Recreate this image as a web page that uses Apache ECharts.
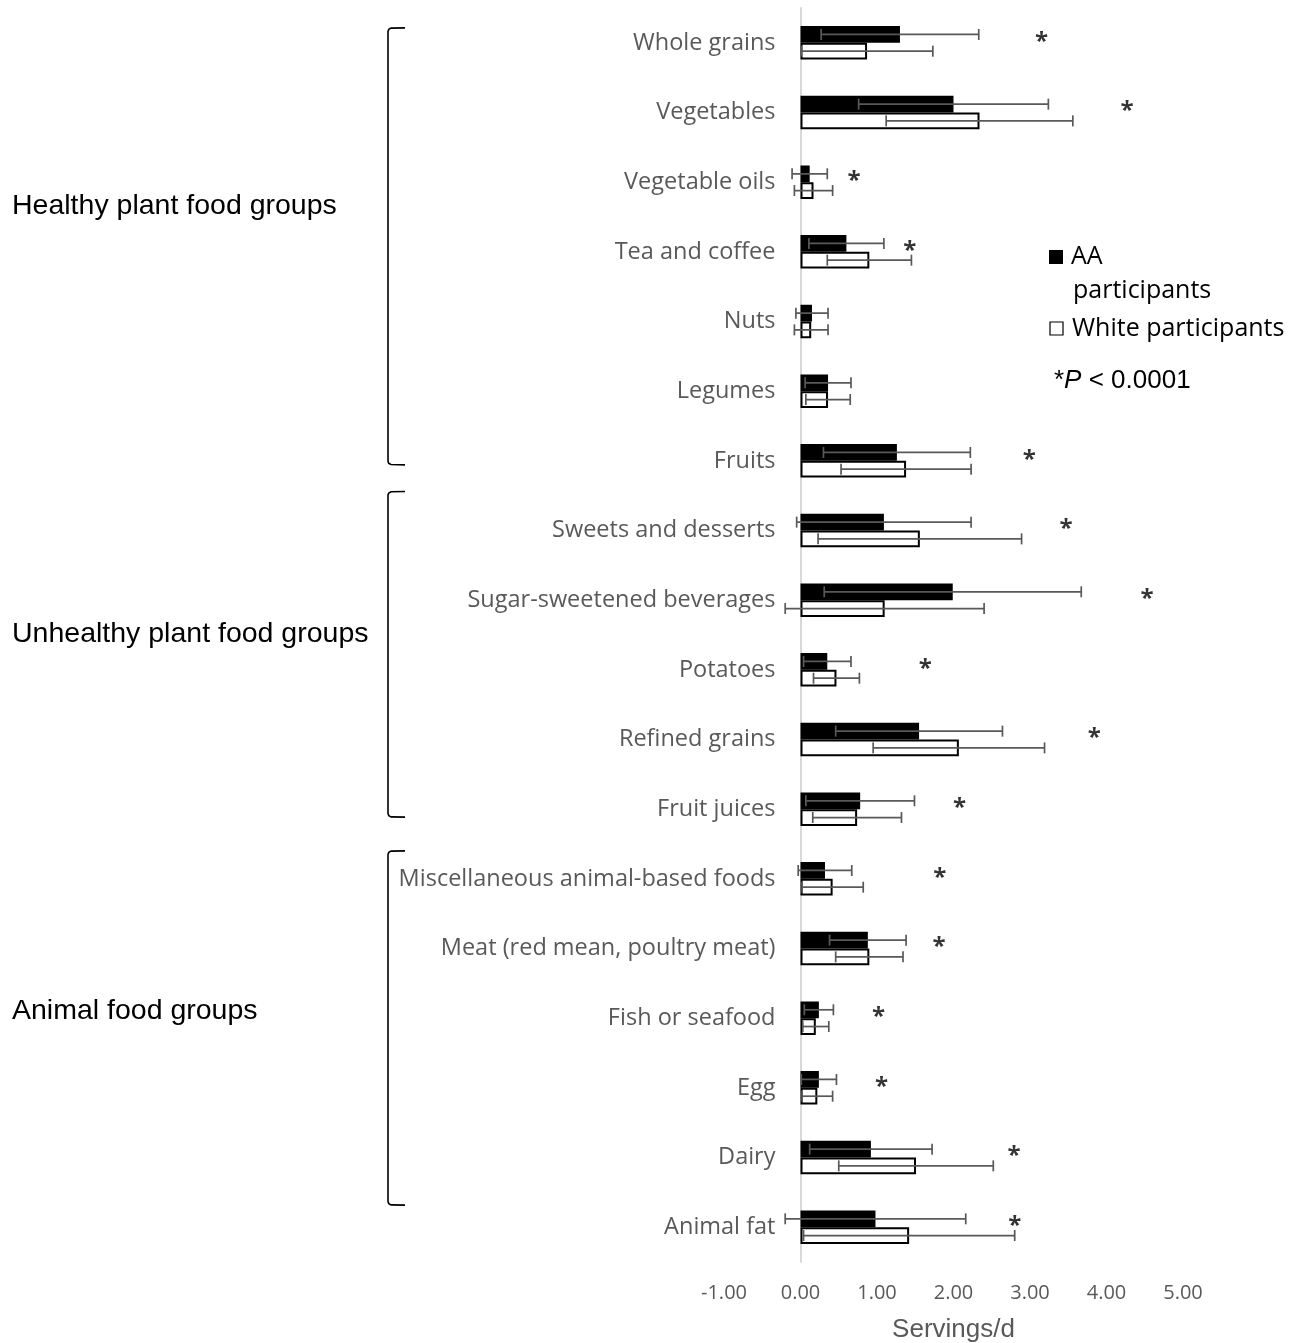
<!DOCTYPE html>
<html>
<head>
<meta charset="utf-8">
<title>Food group intake by race</title>
<script src="https://cdn.jsdelivr.net/npm/echarts@6/dist/echarts.min.js"></script>
<style>
  html, body { margin: 0; padding: 0; background: #ffffff; }
  #chart { width: 1300px; height: 1343px; }
</style>
</head>
<body>
<div id="chart"></div>
<script>
// Food groups, top to bottom
const categories = [
  'Whole grains', 'Vegetables', 'Vegetable oils', 'Tea and coffee', 'Nuts', 'Legumes', 'Fruits',
  'Sweets and desserts', 'Sugar-sweetened beverages', 'Potatoes', 'Refined grains', 'Fruit juices',
  'Miscellaneous animal-based foods', 'Meat (red mean, poultry meat)', 'Fish or seafood', 'Egg', 'Dairy', 'Animal fat'
];

// Mean servings per day and SD, African American participants
const aaMean = [1.30, 2.00, 0.12, 0.60, 0.15, 0.36, 1.26, 1.09, 1.99, 0.35, 1.55, 0.78, 0.32, 0.88, 0.24, 0.24, 0.92, 0.98];
const aaSD   = [1.03, 1.24, 0.23, 0.49, 0.21, 0.30, 0.96, 1.14, 1.68, 0.31, 1.09, 0.71, 0.35, 0.50, 0.19, 0.23, 0.80, 1.18];

// Mean servings per day and SD, White participants
const whMean = [0.87, 2.34, 0.17, 0.90, 0.14, 0.36, 1.38, 1.56, 1.10, 0.47, 2.07, 0.74, 0.42, 0.90, 0.20, 0.22, 1.51, 1.42];
const whSD   = [0.86, 1.22, 0.25, 0.55, 0.22, 0.29, 0.85, 1.33, 1.30, 0.30, 1.12, 0.58, 0.40, 0.44, 0.17, 0.20, 1.01, 1.38];

// Where the significance asterisk sits (servings/d); null = not significant
const starAt = [3.15, 4.27, 0.70, 1.43, null, null, 2.99, 3.47, 4.53, 1.63, 3.84, 2.08, 1.82, 1.81, 1.02, 1.06, 2.79, 2.80];

// Value axis ticks
const xTicks = { min: -1, max: 5, interval: 1 };

// Food group sections: label, first and last category index
const groups = [
  { name: 'Healthy plant food groups',   first: 0,  last: 6 },
  { name: 'Unhealthy plant food groups', first: 7,  last: 11 },
  { name: 'Animal food groups',          first: 12, last: 17 }
];

const BAR_FRAC = 0.24;    // bar thickness as share of a category band
const GREY = '#595959';
const CAT_FONT = '"Open Sans", "Noto Sans", sans-serif';
const ARIAL = '"Liberation Sans", Arial, sans-serif';

const GRID_LEFT = 724, GRID_W = 459;
// the category axis is drawn on the zero line of the value axis
const ZERO_SHIFT = GRID_W * (0 - xTicks.min) / (xTicks.max - xTicks.min);

function errorBars(sign) {
  return function (params, api) {
    const cat = api.value(0);
    const lo = api.value(1), hi = api.value(2);
    const c = api.coord([0, cat]);
    const band = api.size([0, 1])[1];
    const y = c[1] + sign * band * BAR_FRAC / 2;
    const x1 = api.coord([lo, cat])[0];
    const x2 = api.coord([hi, cat])[0];
    const h = 5.5;
    const st = { stroke: GREY, lineWidth: 1.7 };
    return {
      type: 'group',
      children: [
        { type: 'line', shape: { x1: x1, y1: y, x2: x2, y2: y }, style: st },
        { type: 'line', shape: { x1: x1, y1: y - h, x2: x1, y2: y + h }, style: st },
        { type: 'line', shape: { x1: x2, y1: y - h, x2: x2, y2: y + h }, style: st }
      ]
    };
  };
}

const aaErr = aaMean.map((m, i) => [i, m - aaSD[i], m + aaSD[i]]);
const whErr = whMean.map((m, i) => [i, m - whSD[i], m + whSD[i]]);
const stars = starAt.map((v, i) => v === null ? null : [v, i]).filter(d => d !== null);

const chart = echarts.init(document.getElementById('chart'), null, { renderer: 'canvas' });

const option = {
  animation: false,
  backgroundColor: '#ffffff',
  grid: {
    left: GRID_LEFT, width: GRID_W, top: 8, height: 1254,
    containLabel: false, outerBoundsMode: 'none'
  },
  xAxis: {
    type: 'value',
    min: xTicks.min, max: xTicks.max, interval: xTicks.interval,
    axisLine: { show: false },
    axisTick: { show: false },
    splitLine: { show: false },
    axisLabel: {
      color: GREY, fontFamily: CAT_FONT, fontSize: 20, margin: 21,
      formatter: v => v.toFixed(2)
    },
    name: 'Servings/d',
    nameLocation: 'middle',
    nameGap: 55,
    nameTextStyle: { color: GREY, fontFamily: ARIAL, fontSize: 26 }
  },
  yAxis: {
    type: 'category',
    data: categories,
    inverse: true,
    offset: -ZERO_SHIFT,
    axisLine: { show: true, onZero: false, lineStyle: { color: '#d9d9d9', width: 2 } },
    axisTick: { show: false },
    splitLine: { show: false },
    axisLabel: { color: GREY, fontFamily: CAT_FONT, fontSize: 23.5, margin: 25 }
  },
  series: [
    {
      name: 'AA participants',
      type: 'bar',
      data: aaMean,
      barWidth: (BAR_FRAC * 100) + '%',
      barGap: '0%',
      itemStyle: { color: '#000000', borderColor: '#000000', borderWidth: 1.5 },
      z: 2
    },
    {
      name: 'White participants',
      type: 'bar',
      data: whMean,
      barWidth: (BAR_FRAC * 100) + '%',
      barGap: '0%',
      itemStyle: { color: '#ffffff', borderColor: '#000000', borderWidth: 2 },
      z: 2
    },
    {
      type: 'custom',
      renderItem: errorBars(-1),
      data: aaErr,
      encode: { x: [1, 2], y: 0 },
      z: 5, silent: true
    },
    {
      type: 'custom',
      renderItem: errorBars(1),
      data: whErr,
      encode: { x: [1, 2], y: 0 },
      z: 5, silent: true
    },
    {
      type: 'scatter',
      data: stars,
      symbolSize: 1,
      itemStyle: { color: 'rgba(0,0,0,0)' },
      silent: true,
      label: {
        show: true, position: 'inside', formatter: '*', offset: [0, -1],
        color: '#000000', fontSize: 24, fontWeight: 'bold', fontFamily: CAT_FONT
      },
      z: 6
    }
  ]
};

chart.setOption(option);

// Section brackets, group names and legend
function yOf(i) { return chart.convertToPixel({ yAxisIndex: 0 }, categories[i]); }
const BX = 388, ARM = 17;
const bracketTrim = [[-15, 4], [-39, 8], [-28, -22]];
const groupLabelY = [206, 634, 1011];

const gfx = [];
groups.forEach((g, k) => {
  const top = yOf(g.first) + bracketTrim[k][0];
  const bot = yOf(g.last) + bracketTrim[k][1];
  gfx.push({
    type: 'polyline',
    shape: {
      points: [
        [BX + ARM, top], [BX + 3, top + 0.3], [BX + 0.8, top + 1.5], [BX, top + 3.5],
        [BX, bot - 3.5], [BX + 0.8, bot - 1.5], [BX + 3, bot - 0.3], [BX + ARM, bot]
      ]
    },
    style: { fill: null, stroke: '#000000', lineWidth: 1.6 }
  });
  gfx.push({
    type: 'text', x: 12, y: groupLabelY[k],
    style: { text: g.name, fill: '#000000', font: '28.5px ' + ARIAL, textVerticalAlign: 'middle' }
  });
});

// Legend block
const LEG_FONT = '25px ' + CAT_FONT;
gfx.push({ type: 'rect', shape: { x: 1049, y: 250, width: 14, height: 14 }, style: { fill: '#000000' } });
gfx.push({ type: 'text', x: 1071, y: 257, style: { text: 'AA', fill: '#000000', font: LEG_FONT, textVerticalAlign: 'middle' } });
gfx.push({ type: 'text', x: 1073, y: 291, style: { text: 'participants', fill: '#000000', font: LEG_FONT, textVerticalAlign: 'middle' } });
gfx.push({ type: 'rect', shape: { x: 1050, y: 322, width: 13, height: 13 }, style: { fill: '#ffffff', stroke: '#000000', lineWidth: 1.2 } });
gfx.push({ type: 'text', x: 1072, y: 329, style: { text: 'White participants', fill: '#000000', font: LEG_FONT, textVerticalAlign: 'middle' } });
gfx.push({
  type: 'text', x: 1054, y: 381,
  style: {
    text: '{a|*}{p|P}{a| < 0.0001}',
    textVerticalAlign: 'middle',
    rich: {
      a: { fill: '#000000', font: '26px ' + ARIAL },
      p: { fill: '#000000', font: 'italic 26px ' + ARIAL }
    }
  }
});

chart.setOption({ graphic: gfx });
</script>
</body>
</html>
